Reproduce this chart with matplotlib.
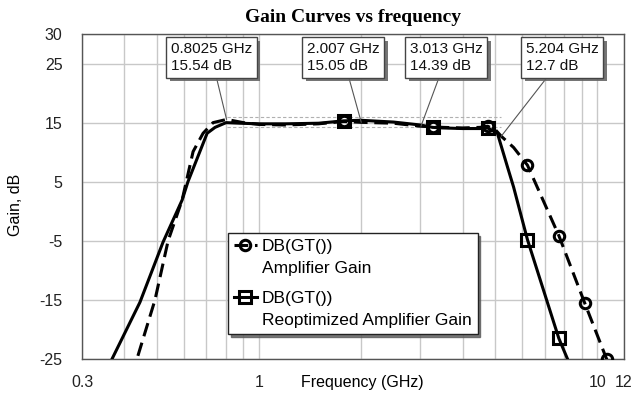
import matplotlib
matplotlib.use("Agg")
import matplotlib.pyplot as plt
import matplotlib.patheffects as pe

plt.rcParams['font.family'] = ['Liberation Sans', 'DejaVu Sans']

# Amplifier gain (dashed, circles)
freq_amp = [0.40, 0.436, 0.493, 0.539, 0.593, 0.639, 0.684, 0.732, 0.8025, 0.9, 1.0,
            1.2, 1.5, 1.78, 2.007, 2.5, 3.013, 3.26, 3.5, 4.0, 4.5, 4.74, 5.0, 5.204,
            5.66, 6.22, 7.70, 9.18, 10.66, 11.5]
gain_amp = [-32, -25, -15, -5, 1.9, 10.1, 13.2, 15.0, 15.54, 15.0, 14.7,
            14.6, 14.8, 15.2, 15.05, 14.9, 14.39, 14.3, 14.2, 14.1, 14.2, 14.4, 13.8, 12.7,
            10.8, 7.8, -4.1, -15.5, -25, -30]

# Reoptimized amplifier gain (solid, squares)
freq_reopt = [0.34, 0.368, 0.445, 0.521, 0.593, 0.617, 0.703, 0.742, 0.80, 0.88,
              1.0, 1.2, 1.5, 1.78, 2.0, 2.5, 3.0, 3.26, 3.5, 4.0, 4.5, 4.74, 5.07,
              5.43, 5.66, 6.22, 7.70, 8.17, 8.6]
gain_reopt = [-29, -25, -15.4, -5.2, 1.9, 5.0, 13.2, 14.2, 15.0, 14.9,
              14.8, 14.8, 14.9, 15.3, 15.4, 15.1, 14.6, 14.2, 14.1, 14.0, 14.0, 14.1, 13.2,
              7.5, 4.1, -4.8, -21.5, -25, -29.4]

marker_freqs = [1.78, 3.26, 4.74, 6.22, 7.70, 9.18, 10.66]

# marker readouts
mk_freq = [0.8025, 2.007, 3.013, 5.204]
mk_gain = [15.54, 15.05, 14.39, 12.7]
mk_box_x = [171, 307, 410, 526]   # left of label, figure pixels

band_lo, band_hi = 14.2, 15.9

xticks = [0.3, 1, 10, 12]
xminor = [0.4, 0.5, 0.6, 0.7, 0.8, 0.9, 2, 3, 4, 5, 6, 7, 8, 9]
yticks = [-25, -15, -5, 5, 15, 25, 30]

fig = plt.figure(figsize=(6.34, 3.94), dpi=100)
ax = fig.add_axes([82/634, 1 - 359/394, 542/634, 325/394])

ax.set_xscale('log')
ax.set_xlim(0.3, 12)
ax.set_ylim(-25, 30)
ax.set_xticks(xticks)
ax.set_xticklabels(['0.3', '1', '10', '12'])
ax.set_xticks(xminor, minor=True)
ax.set_xticklabels([], minor=True)
ax.set_yticks(yticks)
ax.set_yticklabels([str(v) for v in yticks])
ax.tick_params(which='both', length=0, labelsize=11.5, colors='#222')
ax.tick_params(axis='x', pad=11.5)
ax.tick_params(axis='y', pad=14)
ax.grid(True, which='both', color='#c8c8c8', lw=1)
ax.set_axisbelow(True)
for s in ax.spines.values():
    s.set_color('#555')
    s.set_linewidth(1)

# band lines
ax.plot([0.8025, 5.204], [band_hi, band_hi], color='#b0b0b0', lw=0.8, ls=(0, (3, 2)), zorder=2)
ax.plot([0.8025, 5.204], [band_lo, band_lo], color='#b0b0b0', lw=0.8, ls=(0, (3, 2)), zorder=2)

idx_amp = [i for i, f in enumerate(freq_amp) if f in marker_freqs]
idx_reopt = [i for i, f in enumerate(freq_reopt) if f in marker_freqs]

ax.plot(freq_amp, gain_amp, color='black', lw=2.2, ls=(0, (4.5, 2.2)),
        marker='o', markevery=idx_amp, ms=7.5, mfc='none', mec='black', mew=2.2,
        label='DB(GT())\nAmplifier Gain', zorder=3)
ax.plot(freq_reopt, gain_reopt, color='black', lw=2.2,
        marker='s', markevery=idx_reopt, ms=8.5, mfc='none', mec='black', mew=2.2,
        label='DB(GT())\nReoptimized Amplifier Gain', zorder=4)

leg = ax.legend(loc='upper left', bbox_to_anchor=(0.2694, 0.3877), fontsize=12.5,
                frameon=True, fancybox=False, shadow={'color': '0.35', 'alpha': 0.8},
                handlelength=1.3, handletextpad=0.3, borderpad=0.35, labelspacing=0.85,
                borderaxespad=0)
leg.get_frame().set_edgecolor('#222')
leg.get_frame().set_linewidth(1)
for t in leg.get_texts():
    t.set_linespacing(1.6)
# put the line sample next to the first line of each label
for col in leg._legend_handle_box.get_children():
    for hp in col.get_children():
        hp.align = 'top'

for f, g, bx in zip(mk_freq, mk_gain, mk_box_x):
    ann = ax.annotate(f"{f:g} GHz\n{g:g} dB", xy=(f, g), xycoords='data',
                      xytext=(bx, 394 - 42), textcoords='figure pixels',
                      ha='left', va='top', fontsize=11, color='#111', linespacing=1.3,
                      bbox=dict(boxstyle='square,pad=0.3', fc='white', ec='#444', lw=1),
                      arrowprops=dict(arrowstyle='-', color='#555', lw=0.8,
                                      shrinkA=0, shrinkB=0), zorder=6)
    ann.get_bbox_patch().set_path_effects(
        [pe.withSimplePatchShadow(offset=(2.5, -2.5), shadow_rgbFace='#666', alpha=0.9)])

fig.text(353/634, 1 - 17/394, 'Gain Curves vs frequency', ha='center', va='center',
         fontsize=14, fontweight='bold', family=['Liberation Serif', 'DejaVu Serif'])
fig.text(362/634, 1 - 382/394, 'Frequency (GHz)', ha='center', va='center', fontsize=11.5)
fig.text(15/634, 1 - 205/394, 'Gain, dB', ha='center', va='center', rotation=90, fontsize=11.5)

fig.savefig('out.png', dpi=100)
